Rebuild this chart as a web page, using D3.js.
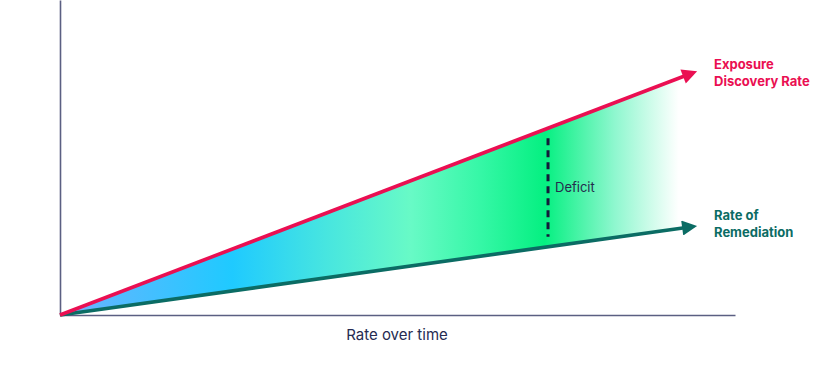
<!DOCTYPE html>
<html>
<head>
<meta charset="utf-8">
<script src="https://cdn.jsdelivr.net/npm/d3@7"></script>
<style>
  body { margin: 0; background: #fff; }
  svg { display: block; font-family: Inter, 'Noto Sans', sans-serif; }
</style>
</head>
<body>
<div id="chart"></div>
<script>
// time runs 0..100 along the x axis, rate 0..100 up the y axis
const time = [0, 94.5];
const exposure = [0, 77.5];
const remediation = [0, 28.3];
const deficitAt = 72.3;
const labels = {
  exposure: ['Exposure', 'Discovery Rate'],
  remediation: ['Rate of', 'Remediation'],
  deficit: 'Deficit',
  xTitle: 'Rate over time'
};
// gradient stops: [offset, colour]
const fillStops = [
  [0, '#8aa6ff'], [0.06, '#5cb8ff'], [0.27, '#1fcaff'], [0.42, '#48e6df'],
  [0.55, '#68fac6'], [0.66, '#35f7a6'], [0.76, '#05f081'], [0.87, '#8ff7cf'],
  [0.97, '#ffffff'], [1, '#ffffff']
];

const width = 824;
const height = 376;
const margin = { left: 60, top: 0, right: 89, bottom: 61 };

const svg = d3.select('#chart').append('svg')
  .attr('width', width)
  .attr('height', height);

const x = d3.scaleLinear()
  .domain([0, 100])
  .range([margin.left, width - margin.right]);
const y = d3.scaleLinear()
  .domain([0, 100])
  .range([height - margin.bottom, margin.top]);

const pts = time.map((t, i) => ({ t, hi: exposure[i], lo: remediation[i] }));

const defs = svg.append('defs');
const grad = defs.append('linearGradient')
  .attr('id', 'deficit-fill')
  .attr('gradientUnits', 'userSpaceOnUse')
  .attr('x1', x(time[0])).attr('x2', x(time[time.length - 1]))
  .attr('y1', 0).attr('y2', 0);
grad.selectAll('stop').data(fillStops).enter().append('stop')
  .attr('offset', d => d[0])
  .attr('stop-color', d => d[1]);

function marker(id, colour) {
  defs.append('marker')
    .attr('id', id)
    .attr('viewBox', '0 0 10 10')
    .attr('refX', 5.2).attr('refY', 5)
    .attr('markerUnits', 'userSpaceOnUse')
    .attr('markerWidth', 17).attr('markerHeight', 15)
    .attr('orient', 'auto')
    .append('path')
    .attr('d', 'M0,0L10,5L0,10z')
    .attr('fill', colour);
}
const red = '#ea0f52';
const teal = '#0b6c64';
marker('arrow-red', red);
marker('arrow-teal', teal);

// area between the two rates
svg.append('path')
  .datum(pts)
  .attr('fill', 'url(#deficit-fill)')
  .attr('d', d3.area()
    .x(d => x(d.t))
    .y0(d => y(d.lo))
    .y1(d => y(d.hi)));

// axes
const axisColour = '#5b5f82';
svg.append('g')
  .attr('transform', `translate(0,${y(0)})`)
  .call(d3.axisBottom(x).tickValues([]).tickSizeOuter(0))
  .call(g => g.select('.domain').attr('stroke', axisColour).attr('stroke-width', 1.6));
svg.append('g')
  .attr('transform', `translate(${x(0)},0)`)
  .call(d3.axisLeft(y).tickValues([]).tickSizeOuter(0))
  .call(g => g.select('.domain').attr('stroke', axisColour).attr('stroke-width', 1.6));

// shorten the stroke so the arrowhead carries the tip
function drawRate(key, colour, markerId) {
  const p = pts.map(d => ({ t: d.t, v: d[key] }));
  const a = p[0], b = p[p.length - 1];
  const dx = x(b.t) - x(a.t), dy = y(b.v) - y(a.v);
  const len = Math.hypot(dx, dy);
  const cut = 8 / len;
  svg.append('path')
    .attr('d', `M${x(a.t)},${y(a.v)}L${x(b.t) - dx * cut},${y(b.v) - dy * cut}`)
    .attr('stroke', colour)
    .attr('stroke-width', 3.6)
    .attr('fill', 'none')
    .attr('marker-end', `url(#${markerId})`);
}
drawRate('lo', teal, 'arrow-teal');
drawRate('hi', red, 'arrow-red');

// deficit marker
const hiAt = exposure[1] * deficitAt / time[1];
const loAt = remediation[1] * deficitAt / time[1];
svg.append('line')
  .attr('x1', x(deficitAt)).attr('x2', x(deficitAt))
  .attr('y1', y(hiAt) + 10).attr('y2', y(loAt) - 10)
  .attr('stroke', '#141a3a')
  .attr('stroke-width', 3)
  .attr('stroke-dasharray', '7,5');
svg.append('text')
  .attr('x', x(deficitAt) + 7)
  .attr('y', (y(hiAt) + y(loAt)) / 2 + 4)
  .attr('fill', '#252b4d')
  .attr('font-size', 13)
  .text(labels.deficit);

// end labels
function endLabel(lines, colour, ty) {
  svg.append('text')
    .attr('x', 714)
    .attr('y', ty)
    .attr('fill', colour)
    .attr('font-size', 13)
    .attr('font-weight', 700)
    .selectAll('tspan').data(lines).enter().append('tspan')
    .attr('x', 714)
    .attr('dy', (d, i) => i ? 17 : 0)
    .text(d => d);
}
endLabel(labels.exposure, red, 69);
endLabel(labels.remediation, teal, 220);

svg.append('text')
  .attr('x', 397)
  .attr('y', 340)
  .attr('text-anchor', 'middle')
  .attr('fill', '#262b52')
  .attr('font-size', 15)
  .text(labels.xTitle);
</script>
</body>
</html>
